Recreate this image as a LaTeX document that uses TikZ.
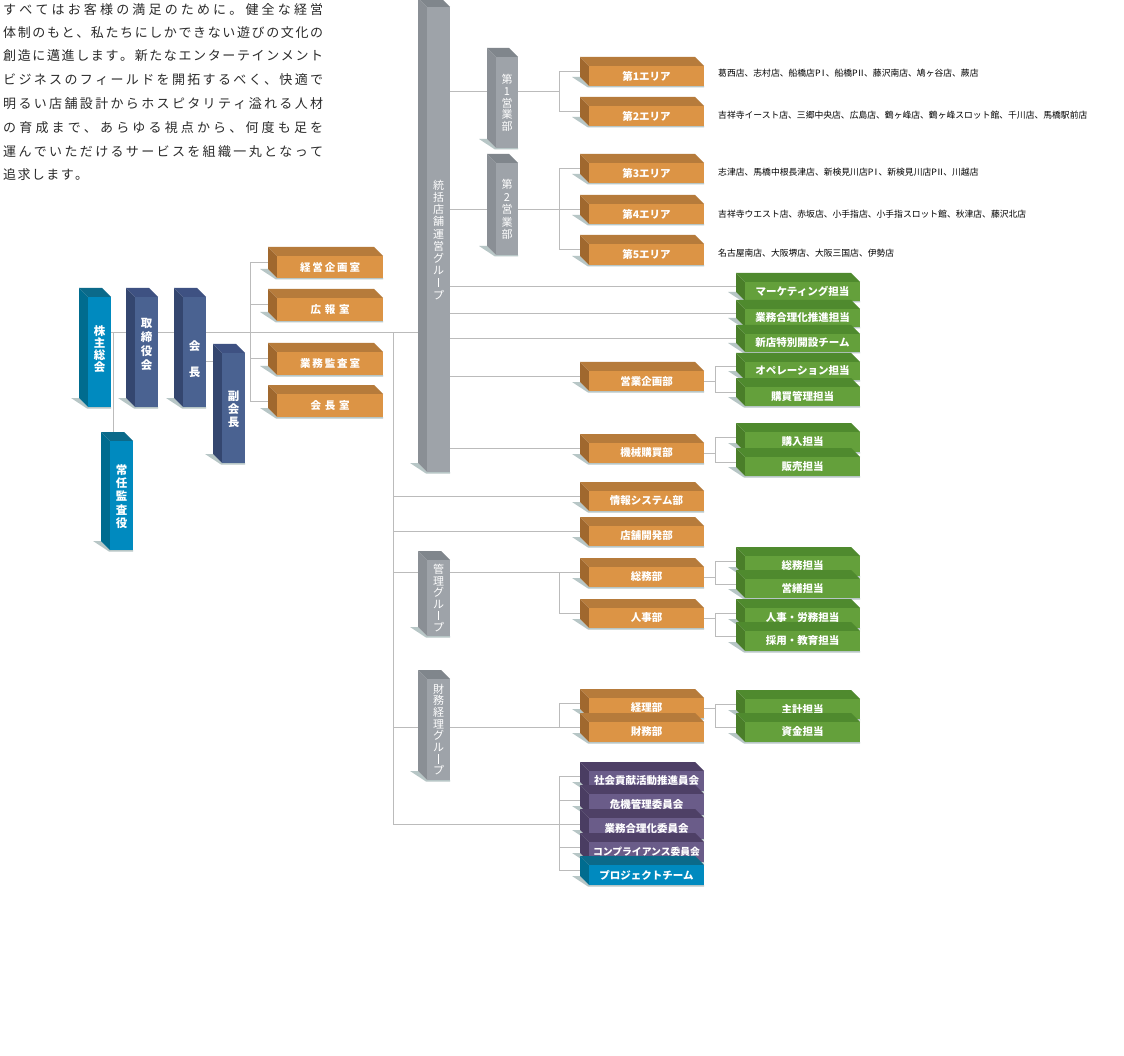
\documentclass[tikz,border=0pt]{standalone}
\usepackage{fontspec}
\setmainfont{Noto Sans CJK JP}
\usetikzlibrary{calc}
\pgfdeclarelayer{bg}\pgfdeclarelayer{paper}\pgfsetlayers{paper,bg,main}
\definecolor{linec}{HTML}{BBBBBB}
\definecolor{shadowc}{HTML}{B7C6C6}
\definecolor{orfront}{HTML}{DC9445}
\definecolor{ortop}{HTML}{B67B3B}
\definecolor{orside}{HTML}{A0682E}
\definecolor{grfront}{HTML}{64A03B}
\definecolor{grtop}{HTML}{4F8A2E}
\definecolor{grside}{HTML}{4A7E29}
\definecolor{gyfront}{HTML}{9EA3A9}
\definecolor{gytop}{HTML}{80868C}
\definecolor{gyside}{HTML}{8A8F95}
\definecolor{nvfront}{HTML}{4A6291}
\definecolor{nvtop}{HTML}{3E5182}
\definecolor{nvside}{HTML}{34466F}
\definecolor{tlfront}{HTML}{008ABF}
\definecolor{tltop}{HTML}{0B6A8A}
\definecolor{tlside}{HTML}{006C8F}
\definecolor{pufront}{HTML}{6A5C89}
\definecolor{putop}{HTML}{4E4066}
\definecolor{puside}{HTML}{4A3D62}
\definecolor{introc}{HTML}{2A2A2A}
\makeatletter
\newcommand\vt[2]{\vbox{\offinterlineskip\def\vt@p{#1}\vt@loop#2\relax}}
\def\vt@loop#1{\ifx#1\relax\else\vt@one{#1}\expandafter\vt@loop\fi}
\def\vt@one#1{\hbox to 20pt{\hss\vrule width0pt height\dimexpr\vt@p pt-0.12em\relax depth0.12em\relax
  \ifx#1|\vrule width 1pt height 0.84em depth 0.02em\else#1\fi\hss}}
\newcommand\jl[2]{\hbox to #1{\jl@first#2\relax}}
\def\jl@first#1{#1\jl@loop}
\def\jl@loop#1{\ifx#1\relax\else\hfill#1\expandafter\jl@loop\fi}
\makeatother
\newcommand\RI{\kern-1.8ptⅠ\kern-1.8pt}
\newcommand\RII{\kern-1.2ptⅡ\kern-1.2pt}
\newcommand\tbox[7]{%
  \fill[shadowc] ({#3-17},{#6-9}) -- ({#3-9},{#6-9}) -- ({#3},{#6}) -- ({#5},{#6}) -- ({#5},{#6+1.5}) -- ({#3-1},{#6+1.5}) -- cycle;
  \fill[#2side] ({#3-9},{#4-9}) -- ({#3},{#4}) -- ({#3},{#6}) -- ({#3-9},{#6-9}) -- cycle;
  \fill[#2top] ({#3-9},{#4-9}) -- ({#5-9},{#4-9}) -- ({#5},{#4}) -- ({#3},{#4}) -- cycle;
  \node[boxtext, fill=#2front, minimum width={#5-#3}, minimum height={#6-#4}, anchor=north west] (#1) at (#3,#4) {#7};
  \coordinate (#1-in) at ({#3-9},{(#4+#6)/2-4.5});
}
\begin{document}
\begin{tikzpicture}[x=1pt,y=-1pt,
  conn/.style={draw=linec,line width=1pt},
  boxtext/.style={text=white,inner sep=0pt,outer sep=0pt,align=center,font=\fontsize{10.5pt}{12pt}\selectfont\bfseries},
  introtext/.style={anchor=west,inner sep=0pt,text=introc,font=\fontsize{13pt}{15pt}\selectfont},
  areatext/.style={anchor=west,inner sep=0pt,text=black,font=\fontsize{8.8pt}{10pt}\selectfont}]
\begin{pgfonlayer}{paper}
\fill[white] (0,0) rectangle (1124,1056);
\end{pgfonlayer}
\useasboundingbox (0,0) rectangle (1124,1056);

% intro text
\node[introtext] (p1) at (3,10) {\jl{320pt}{すべてはお客様の満足のために。健全な経営}};
\node[introtext] (p2) at (3,33) {\jl{320pt}{体制のもと、私たちにしかできない遊びの文化の}};
\node[introtext] (p3) at (3,56) {\jl{320pt}{創造に邁進します。新たなエンターテインメント}};
\node[introtext] (p4) at (3,80) {\jl{320pt}{ビジネスのフィールドを開拓するべく、快適で}};
\node[introtext] (p5) at (3,104) {\jl{320pt}{明るい店舗設計からホスピタリティ溢れる人材}};
\node[introtext] (p6) at (3,128) {\jl{320pt}{の育成まで、あらゆる視点から、何度も足を}};
\node[introtext] (p7) at (3,152) {\jl{320pt}{運んでいただけるサービスを組織一丸となって}};
\node[introtext] (p8) at (3,175) {\jl{85pt}{追求します。}};

% left column
\tbox{kabu}{tl}{88}{297}{111}{407}{\fontsize{11.5pt}{12pt}\selectfont\vbox{\vt{12}{株主総会}\kern6pt}}
\tbox{tori}{nv}{135}{297}{158}{407}{\fontsize{11.5pt}{12pt}\selectfont\vbox{\vt{14}{取締役会}\kern18pt}}
\tbox{kaicho}{nv}{183}{297}{206}{407}{\fontsize{11.5pt}{12pt}\selectfont\vt{26}{会長}}
\tbox{fuku}{nv}{222}{353}{245}{463}{\fontsize{11.5pt}{12pt}\selectfont\vt{13}{副会長}}
\tbox{joni}{tl}{110}{441}{133}{550}{\fontsize{11.5pt}{12pt}\selectfont\vt{13.3}{常任監査役}}

\tbox{keiei}{or}{277}{256}{383}{278}{\jl{60pt}{経営企画室}}
\tbox{koho}{or}{277}{298}{383}{321}{\jl{39pt}{広報室}}
\tbox{gyomu}{or}{277}{352}{383}{375}{\jl{60pt}{業務監査室}}
\tbox{kaichoshitsu}{or}{277}{394}{383}{417}{\jl{39pt}{会長室}}

% gray group columns
\tbox{tokatsu}{gy}{427}{7}{450}{472}{\fontsize{11pt}{12pt}\selectfont\mdseries\vt{12.2}{統括店舗運営グル|プ}}
\tbox{eig1}{gy}{496}{57}{518}{148}{\fontsize{11pt}{12pt}\selectfont\mdseries\vt{11.8}{第1営業部}}
\tbox{eig2}{gy}{496}{163}{518}{255}{\fontsize{11pt}{12pt}\selectfont\mdseries\vt{12.5}{第2営業部}}
\tbox{kanri}{gy}{427}{560}{450}{636}{\fontsize{11pt}{12pt}\selectfont\mdseries\vt{11.6}{管理グル|プ}}
\tbox{zaimu}{gy}{427}{679}{450}{780}{\fontsize{11pt}{12pt}\selectfont\mdseries\vt{11.7}{財務経理グル|プ}}

% areas
\tbox{area1}{or}{589}{66}{704}{86}{第1エリア}
\tbox{area2}{or}{589}{106}{704}{126}{第2エリア}
\tbox{area3}{or}{589}{163}{704}{183}{第3エリア}
\tbox{area4}{or}{589}{204}{704}{224}{第4エリア}
\tbox{area5}{or}{589}{244}{704}{265}{第5エリア}
\node[areatext] (at1) at (718,73) {葛西店、志村店、船橋店P\RI、船橋P\RII、藤沢南店、鳩ヶ谷店、蕨店};
\node[areatext] (at2) at (718,115) {吉祥寺イースト店、三郷中央店、広島店、鶴ヶ峰店、鶴ヶ峰スロット館、千川店、馬橋駅前店};
\node[areatext] (at3) at (718,172) {志津店、馬橋中根長津店、新検見川店P\RI、新検見川店P\RII、川越店};
\node[areatext] (at4) at (718,214) {吉祥寺ウエスト店、赤坂店、小手指店、小手指スロット館、秋津店、藤沢北店};
\node[areatext] (at5) at (718,253) {名古屋南店、大阪堺店、大阪三国店、伊勢店};

% orange departments
\tbox{eigyokikaku}{or}{589}{371}{704}{391}{営業企画部}
\tbox{kikai}{or}{589}{443}{704}{463}{機械購買部}
\tbox{joho}{or}{589}{491}{704}{511}{情報システム部}
\tbox{tenpo}{or}{589}{526}{704}{546}{店舗開発部}
\tbox{somu}{or}{589}{567}{704}{587}{総務部}
\tbox{jinji}{or}{589}{608}{704}{628}{人事部}
\tbox{keiri}{or}{589}{698}{704}{718}{経理部}
\tbox{zaimubu}{or}{589}{722}{704}{742}{財務部}

% green
\tbox{mk}{gr}{745}{282}{860}{301}{マーケティング担当}
\tbox{gr}{gr}{745}{309}{860}{327}{業務合理化推進担当}
\tbox{sh}{gr}{745}{334}{860}{352}{新店特別開設チーム}
\tbox{op}{gr}{745}{362}{860}{380}{オペレーション担当}
\tbox{kb}{gr}{745}{387}{860}{406}{購買管理担当}
\tbox{kn}{gr}{745}{432}{860}{452}{購入担当}
\tbox{hb}{gr}{745}{457}{860}{476}{販売担当}
\tbox{sm}{gr}{745}{556}{860}{576}{総務担当}
\tbox{ez}{gr}{745}{579}{860}{598}{営繕担当}
\tbox{jr}{gr}{745}{608}{860}{628}{人事・労務担当}
\tbox{sa}{gr}{745}{631}{860}{651}{採用・教育担当}
\tbox{sk}{gr}{745}{699}{860}{719}{主計担当}
\tbox{sg}{gr}{745}{722}{860}{742}{資金担当}

% committees
\tbox{sk1}{pu}{589}{771}{704}{791}{社会貢献活動推進員会}
\tbox{kk}{pu}{589}{794}{704}{815}{危機管理委員会}
\tbox{gy}{pu}{589}{818}{704}{839}{業務合理化委員会}
\tbox{cp}{pu}{589}{842}{704}{862}{\fontsize{9.8pt}{11pt}\selectfont\bfseries コンプライアンス委員会}
\tbox{pj}{tl}{589}{865}{704}{885}{プロジェクトチーム}

\begin{pgfonlayer}{bg}
\coordinate (j0) at (393.5,332.5);
\coordinate (ka) at (113.5,332.5);
\coordinate (lb) at (250.5,332.5);
\coordinate (vb) at (559.5,0);
\coordinate (rb) at (715.5,0);
\draw[conn] (kabu.east |- j0) -- (tokatsu.west |- j0);
\draw[conn] (ka) -- (ka |- joni.north);
\draw[conn] ([yshift=-10pt]kaicho.east) -- ([yshift=-10pt]kaicho.east -| fuku.west);
\draw[conn] (keiei-in) -- (keiei-in -| lb) -- (kaichoshitsu-in -| lb) -- (kaichoshitsu-in);
\draw[conn] (koho-in) -- (koho-in -| lb);
\draw[conn] (gyomu-in) -- (gyomu-in -| lb);
% trunk
\draw[conn] (j0) -- (j0 |- gy-in) -- (gy-in);
\draw[conn] (j0 |- joho-in) -- (joho-in);
\draw[conn] (j0 |- tenpo-in) -- (tenpo-in);
\draw[conn] (j0 |- somu-in) -- (somu-in);
\draw[conn] (somu-in -| vb) -- (jinji-in -| vb) -- (jinji-in);
\draw[conn] (j0 |- zaimubu-in) -- (zaimubu-in);
\draw[conn] (keiri-in) -- (keiri-in -| vb) -- (zaimubu-in -| vb);
\draw[conn] (sk1-in) -- (sk1-in -| vb) -- (pj-in -| vb) -- (pj-in);
\draw[conn] (kk-in -| vb) -- (kk-in);
\draw[conn] (cp-in -| vb) -- (cp-in);
% tokatsu branches
\coordinate (m1) at ($(area1-in)!0.5!(area2-in)$);
\draw[conn] (tokatsu.east |- m1) -- (m1 -| vb);
\draw[conn] (area1-in) -- (area1-in -| vb) -- (area2-in -| vb) -- (area2-in);
\draw[conn] (tokatsu.east |- area4-in) -- (area4-in);
\draw[conn] (area3-in) -- (area3-in -| vb) -- (area5-in -| vb) -- (area5-in);
\draw[conn] (tokatsu.east |- mk-in) -- (mk-in);
\draw[conn] (tokatsu.east |- gr-in) -- (gr-in);
\draw[conn] (tokatsu.east |- sh-in) -- (sh-in);
\draw[conn] (tokatsu.east |- eigyokikaku-in) -- (eigyokikaku-in);
\draw[conn] (tokatsu.east |- kikai-in) -- (kikai-in);
% right brackets
\draw[conn] (eigyokikaku.east) -- (eigyokikaku.east -| rb);
\draw[conn] (op-in) -- (op-in -| rb) -- (kb-in -| rb) -- (kb-in);
\draw[conn] (kikai.east) -- (kikai.east -| rb);
\draw[conn] (kn-in) -- (kn-in -| rb) -- (hb-in -| rb) -- (hb-in);
\draw[conn] (somu.east) -- (somu.east -| rb);
\draw[conn] (sm-in) -- (sm-in -| rb) -- (ez-in -| rb) -- (ez-in);
\draw[conn] (jinji.east) -- (jinji.east -| rb);
\draw[conn] (jr-in) -- (jr-in -| rb) -- (sa-in -| rb) -- (sa-in);
\draw[conn] (keiri.east) -- (keiri.east -| rb);
\draw[conn] (sk-in) -- (sk-in -| rb) -- (sg-in -| rb) -- (sg-in);
\end{pgfonlayer}
\end{tikzpicture}
\end{document}
